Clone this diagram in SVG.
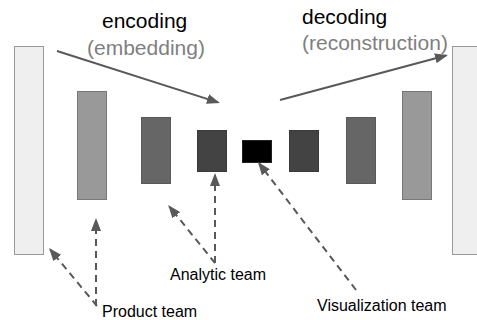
<svg xmlns="http://www.w3.org/2000/svg" width="477" height="320" viewBox="0 0 477 320">
<defs>
<marker id="ah" markerUnits="userSpaceOnUse" markerWidth="13" markerHeight="10" refX="11" refY="5" orient="auto" viewBox="0 0 13 10">
<path d="M0,0 L13,5 L0,10 z" fill="#595959"/>
</marker>
<style>
.lbl{font-family:"Liberation Sans",Arial,sans-serif;}
.t1{font-size:21px;fill:#000;}
.t2{font-size:21px;fill:#7f7f7f;}
.t3{font-size:16px;fill:#000;}
.solid{stroke:#595959;stroke-width:2;fill:none;}
.dash{stroke:#595959;stroke-width:2;fill:none;stroke-dasharray:7,5;}
.b{stroke-width:1;}
</style>
</defs>
<rect width="477" height="320" fill="#fff"/>
<g id="layer1"><rect class="b" x="14.5" y="46.5" width="29" height="208" fill="#efefef" stroke="#999999"/></g>
<g id="layer2"><rect class="b" x="77.5" y="91.5" width="29" height="108" fill="#999999" stroke="#777777"/></g>
<g id="layer3"><rect class="b" x="141.5" y="117.5" width="29" height="66" fill="#666666" stroke="#595959"/></g>
<g id="layer4"><rect class="b" x="197.5" y="130.5" width="29" height="41" fill="#434343" stroke="#3a3a3a"/></g>
<g id="code"><rect class="b" x="242.5" y="140.5" width="29" height="22" fill="#000000" stroke="#222222"/></g>
<g id="layer6"><rect class="b" x="289.5" y="130.5" width="29" height="41" fill="#434343" stroke="#3a3a3a"/></g>
<g id="layer7"><rect class="b" x="346.5" y="117.5" width="29" height="66" fill="#666666" stroke="#595959"/></g>
<g id="layer8"><rect class="b" x="402.5" y="91.5" width="29" height="108" fill="#999999" stroke="#777777"/></g>
<g id="layer9"><rect class="b" x="452.5" y="46.5" width="29" height="208" fill="#efefef" stroke="#999999"/></g>
<g id="labels" class="lbl">
<text class="t1" x="102" y="28">encoding</text>
<text class="t2" x="87" y="55">(embedding)</text>
<text class="t1" x="302" y="24">decoding</text>
<text class="t2" x="302" y="50">(reconstruction)</text>
<text class="t3" x="170" y="280">Analytic team</text>
<text class="t3" x="102" y="317">Product team</text>
<text class="t3" x="317" y="311">Visualization team</text>
</g>
<g id="connectors">
<line class="solid" x1="57" y1="51" x2="218" y2="102.4" marker-end="url(#ah)"/>
<line class="solid" x1="280" y1="100" x2="446" y2="55.5" marker-end="url(#ah)"/>
<line class="dash" x1="97" y1="306" x2="50.3" y2="249.6" marker-end="url(#ah)"/>
<line class="dash" x1="96" y1="306" x2="96" y2="220" marker-end="url(#ah)"/>
<line class="dash" x1="215" y1="263" x2="169.4" y2="206.6" marker-end="url(#ah)"/>
<line class="dash" x1="215" y1="263" x2="215" y2="175" marker-end="url(#ah)"/>
<line class="dash" x1="356" y1="290" x2="259.2" y2="163.6" marker-end="url(#ah)"/>
</g>
</svg>
